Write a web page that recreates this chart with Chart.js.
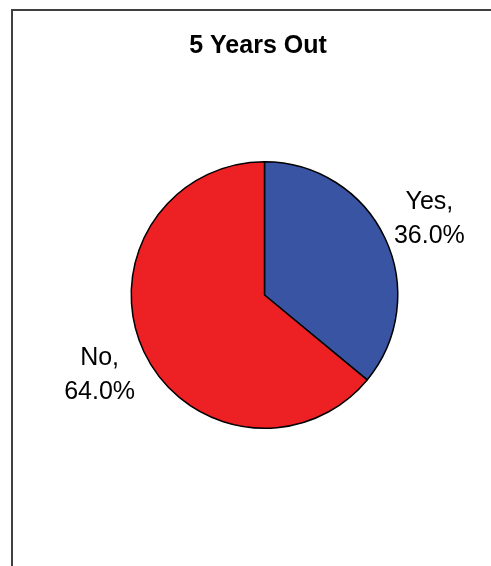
<!DOCTYPE html>
<html>
<head>
<meta charset="utf-8">
<script src="https://cdn.jsdelivr.net/npm/chart.js@4"></script>
<style>
  html, body { margin: 0; padding: 0; background: #ffffff; }
  canvas { display: block; }
</style>
</head>
<body>
<canvas id="c" width="491" height="566"></canvas>
<script>
const chartTitle = "5 Years Out";
const categories = ["Yes", "No"];
const values = [36.0, 64.0];
const sliceColors = ["#3A54A4", "#ED2024"];

const framePlugin = {
  id: 'frame',
  beforeDraw(chart) {
    const ctx = chart.ctx;
    ctx.save();
    ctx.fillStyle = '#ffffff';
    ctx.fillRect(0, 0, chart.width, chart.height);
    ctx.strokeStyle = '#404040';
    ctx.lineWidth = 2;
    ctx.beginPath();
    ctx.moveTo(12, chart.height + 5);
    ctx.lineTo(12, 10);
    ctx.lineTo(chart.width + 5, 10);
    ctx.stroke();
    ctx.restore();
  },
  afterDraw(chart) {
    const ctx = chart.ctx;
    ctx.save();
    ctx.fillStyle = '#000000';
    ctx.font = 'bold 25px "Liberation Sans", Arial, sans-serif';
    ctx.textAlign = 'center';
    ctx.textBaseline = 'alphabetic';
    ctx.fillText(chartTitle, 258, 53);

    const meta = chart.getDatasetMeta(0);
    const data = chart.data.datasets[0].data;
    const total = data.reduce((a, b) => a + b, 0);
    ctx.font = '25px "Liberation Sans", Arial, sans-serif';
    meta.data.forEach((arc, i) => {
      const mid = (arc.startAngle + arc.endAngle) / 2;
      const r = arc.outerRadius + 49;
      const cx = arc.x + Math.cos(mid) * r;
      const cy = arc.y + Math.sin(mid) * r;
      const pct = (data[i] / total * 100).toFixed(1) + '%';
      ctx.fillText(chart.data.labels[i] + ',', cx, cy - 8);
      ctx.fillText(pct, cx, cy + 26);
    });
    ctx.restore();
  }
};

new Chart(document.getElementById('c'), {
  type: 'pie',
  data: {
    labels: categories,
    datasets: [{
      data: values,
      backgroundColor: sliceColors,
      borderColor: '#000000',
      borderWidth: 1.5,
      hoverOffset: 0
    }]
  },
  options: {
    responsive: false,
    animation: false,
    events: [],
    layout: { padding: { left: 130.5, right: 92.5, top: 161, bottom: 137 } },
    plugins: {
      legend: { display: false },
      title: { display: false },
      tooltip: { enabled: false }
    }
  },
  plugins: [framePlugin]
});
</script>
</body>
</html>
